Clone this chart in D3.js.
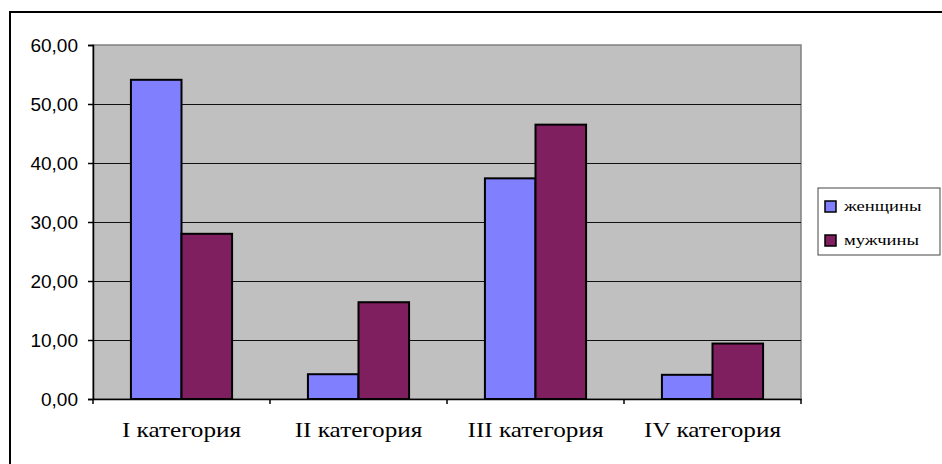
<!DOCTYPE html>
<html lang="ru">
<head>
  <meta charset="UTF-8">
  <title>Категории: женщины и мужчины</title>
  <script src="https://d3js.org/d3.v7.min.js"></script>
  <style>
    body { margin: 0; background: #fff; }
  </style>
</head>
<body>
  <svg id="chart" width="942" height="464"></svg>
  <script>
    // Data
    const categories = ["I категория", "II категория", "III категория", "IV категория"];
    const seriesNames = ["женщины", "мужчины"];
    const women = [54.1, 4.2, 37.4, 4.1];
    const men = [28.0, 16.4, 46.5, 9.4];
    const yTicks = [0, 10, 20, 30, 40, 50, 60];

    const colors = ["#8080ff", "#7f1f5f"];
    const sansFont = "Liberation Sans, Arial, sans-serif";
    const serifFont = "Liberation Serif, Times New Roman, serif";

    const svg = d3.select("#chart");
    const margin = { left: 93, top: 45, right: 801, bottom: 399 };

    // outer frame
    svg.append("rect")
      .attr("x", 10).attr("y", 12)
      .attr("width", 1000).attr("height", 1000)
      .attr("fill", "none").attr("stroke", "#000").attr("stroke-width", 2);

    const x = d3.scaleBand().domain(categories).range([margin.left, margin.right]);
    const xs = d3.scaleBand().domain(seriesNames)
      .range([0, x.bandwidth()]).paddingInner(0).paddingOuter(0.75);
    const y = d3.scaleLinear().domain([0, 60]).range([margin.bottom, margin.top]);

    // plot area
    svg.append("rect")
      .attr("x", margin.left).attr("y", margin.top)
      .attr("width", margin.right - margin.left).attr("height", margin.bottom - margin.top)
      .attr("fill", "#c0c0c0").attr("stroke", "#808080").attr("stroke-width", 1.5);

    // gridlines
    svg.append("g")
      .selectAll("line")
      .data(yTicks.filter(d => d > 0 && d < 60))
      .join("line")
        .attr("x1", margin.left).attr("x2", margin.right)
        .attr("y1", d => Math.round(y(d)) + 0.5).attr("y2", d => Math.round(y(d)) + 0.5)
        .attr("stroke", "#111").attr("stroke-width", 1.2);

    // bars
    const rows = categories.map((c, i) => ({ cat: c, vals: [women[i], men[i]] }));
    const groups = svg.append("g")
      .selectAll("g")
      .data(rows)
      .join("g")
        .attr("transform", d => `translate(${x(d.cat)},0)`);
    groups.selectAll("rect")
      .data(d => d.vals.map((v, j) => ({ name: seriesNames[j], v, j })))
      .join("rect")
        .attr("x", d => xs(d.name))
        .attr("y", d => y(d.v))
        .attr("width", xs.bandwidth())
        .attr("height", d => y(0) - y(d.v))
        .attr("fill", d => colors[d.j])
        .attr("stroke", "#000").attr("stroke-width", 2);

    // y axis
    const yAxis = d3.axisLeft(y).tickValues(yTicks).tickSize(5).tickPadding(10)
      .tickFormat(d => d3.format(".2f")(d).replace(".", ","));
    const gy = svg.append("g").attr("transform", `translate(${margin.left},0)`).call(yAxis);
    gy.attr("font-family", sansFont).attr("font-size", 19);
    gy.select(".domain").attr("stroke", "#000").attr("stroke-width", 1.5);
    gy.selectAll(".tick line").attr("stroke", "#000").attr("stroke-width", 1.5);
    gy.selectAll("text").attr("fill", "#000").attr("dy", "0.36em");

    // x axis (labels a bit wider than the font, as in the original)
    const xAxis = d3.axisBottom(x).tickSize(0).tickPadding(23);
    const gx = svg.append("g").attr("transform", `translate(0,${margin.bottom})`).call(xAxis);
    gx.attr("font-family", serifFont).attr("font-size", 21);
    gx.select(".domain").attr("stroke", "#000").attr("stroke-width", 1.5);
    gx.selectAll("text").attr("fill", "#000").attr("transform", "scale(1.2,1)");
    // category boundary ticks
    const bounds = categories.map(c => x(c)).concat([margin.right]);
    gx.selectAll(".bound")
      .data(bounds)
      .join("line")
        .attr("class", "bound")
        .attr("x1", d => d).attr("x2", d => d)
        .attr("y1", 0).attr("y2", 5)
        .attr("stroke", "#000").attr("stroke-width", 1.5);

    // legend
    const leg = svg.append("g").attr("transform", "translate(818,188)");
    leg.append("rect")
      .attr("width", 122).attr("height", 67)
      .attr("fill", "#fff").attr("stroke", "#444").attr("stroke-width", 1);
    const items = leg.selectAll("g.item")
      .data(seriesNames)
      .join("g")
        .attr("class", "item")
        .attr("transform", (d, i) => `translate(7,${13 + i * 34})`);
    items.append("rect")
      .attr("width", 11).attr("height", 11)
      .attr("fill", (d, i) => colors[i])
      .attr("stroke", "#000").attr("stroke-width", 1.5);
    items.append("text")
      .attr("transform", "translate(19,10) scale(1.2,1)")
      .attr("font-family", serifFont)
      .attr("font-size", 15.5)
      .attr("fill", "#000")
      .text(d => d);
  </script>
</body>
</html>
